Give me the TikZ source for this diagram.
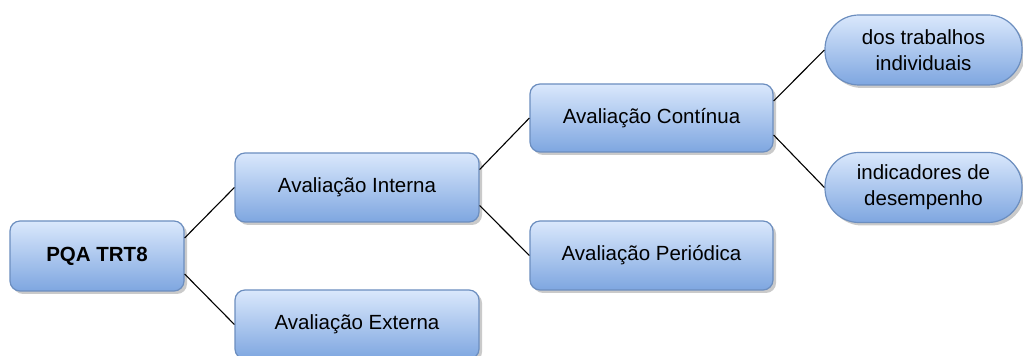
\documentclass[tikz,border=0pt]{standalone}
\usepackage{fontspec}
\setmainfont{Liberation Sans}
\usetikzlibrary{shadows}
\definecolor{boxtop}{HTML}{DAE8FC}
\definecolor{boxbot}{HTML}{7EA6E0}
\definecolor{boxline}{HTML}{6C8EBF}
\tikzset{
  box/.style={draw=boxline, line width=1.2pt, top color=boxtop, bottom color=boxbot,
    rounded corners=10pt, inner sep=0pt, align=center,
    font=\fontsize{20.5}{26}\selectfont,
    drop shadow={shadow xshift=3pt, shadow yshift=-3pt, opacity=0.35, fill=black!60}},
  leaf/.style={box, rounded corners=34pt, minimum width=197pt, minimum height=70pt},
  conn/.style={draw=black, line width=1.1pt}
}
\begin{document}
\begin{tikzpicture}[x=1pt,y=1pt]
\useasboundingbox (0,0) rectangle (1023,356);
\node[box, minimum width=174pt, minimum height=70pt, font=\fontsize{20.5}{26}\selectfont\bfseries] (pqa) at (97,100) {PQA TRT8};
\node[box, minimum width=244pt, minimum height=69pt] (int) at (357,168.5) {Avaliação Interna};
\node[box, minimum width=244pt, minimum height=69pt] (ext) at (357,31.5) {Avaliação Externa};
\node[box, minimum width=243pt, minimum height=68pt] (cont) at (651.5,238) {Avaliação Contínua};
\node[box, minimum width=243pt, minimum height=69pt] (per) at (651.5,100.5) {Avaliação Periódica};
\node[leaf] (dos) at (923.5,306) {dos trabalhos\\individuais};
\node[leaf] (ind) at (923.5,168.5) {indicadores de\\desempenho};
\draw[conn] ([yshift=18pt]pqa.east) -- (int.west);
\draw[conn] ([yshift=-18pt]pqa.east) -- (ext.west);
\draw[conn] ([yshift=18pt]int.east) -- (cont.west);
\draw[conn] ([yshift=-18pt]int.east) -- (per.west);
\draw[conn] ([yshift=17pt]cont.east) -- (dos.west);
\draw[conn] ([yshift=-17pt]cont.east) -- (ind.west);
\end{tikzpicture}
\end{document}
